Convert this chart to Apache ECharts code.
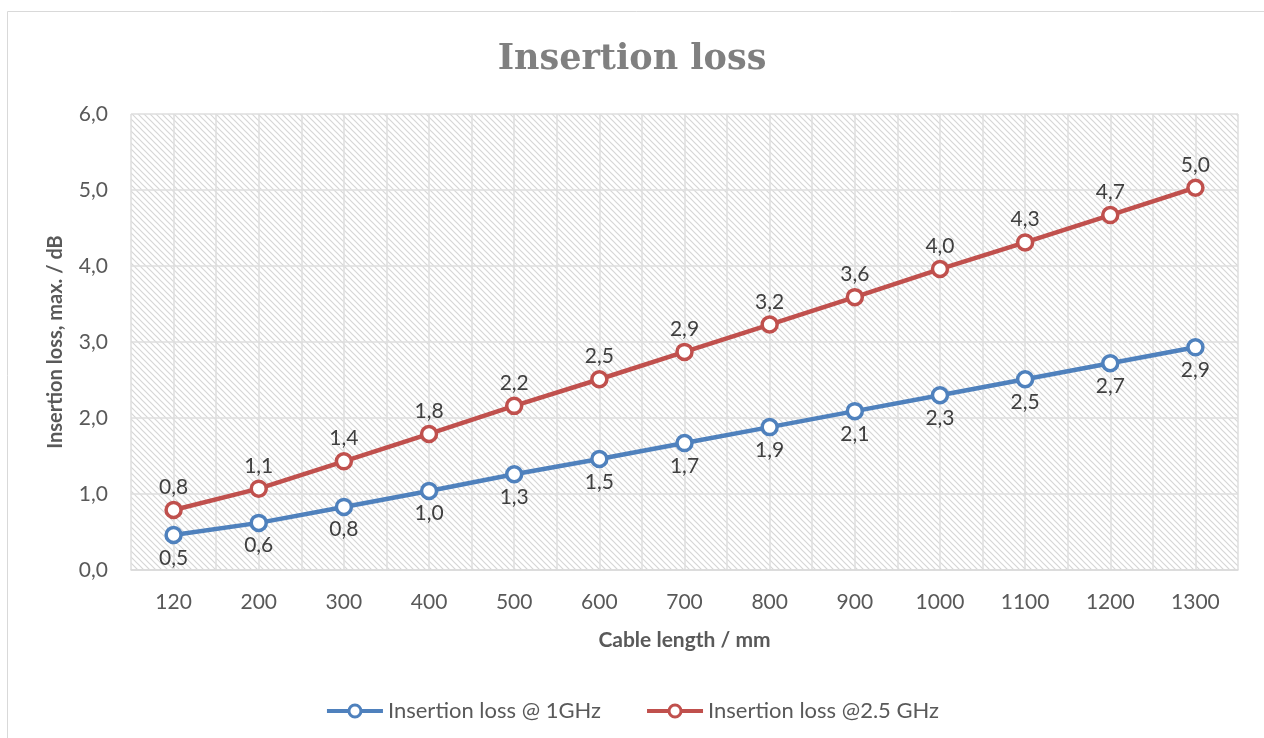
<!DOCTYPE html>
<html>
<head>
<meta charset="utf-8">
<title>Insertion loss</title>
<script src="https://cdn.jsdelivr.net/npm/echarts@6/dist/echarts.min.js"></script>
<style>
    html, body { margin: 0; padding: 0; background: #fff; }
    #main { width: 1264px; height: 738px; }
</style>
</head>
<body>
<div id="main"></div>
<script>
    var lengths = ['120', '200', '300', '400', '500', '600', '700', '800', '900', '1000', '1100', '1200', '1300'];
    var loss1GHz = [0.46, 0.62, 0.83, 1.04, 1.26, 1.46, 1.67, 1.88, 2.09, 2.30, 2.51, 2.72, 2.93];
    var loss25GHz = [0.79, 1.07, 1.43, 1.79, 2.16, 2.51, 2.87, 3.23, 3.59, 3.96, 4.31, 4.67, 5.03];
    var yTicks = [0, 1, 2, 3, 4, 5, 6];

    // hatched plot background
    var pat = document.createElement('canvas');
    pat.width = 6; pat.height = 6;
    var ctx = pat.getContext('2d');
    ctx.fillStyle = '#ffffff';
    ctx.fillRect(0, 0, 6, 6);
    ctx.strokeStyle = '#d6d6d6';
    ctx.lineWidth = 1.2;
    ctx.beginPath();
    ctx.moveTo(-1, -1); ctx.lineTo(7, 7);
    ctx.moveTo(-4, 2); ctx.lineTo(4, 10);
    ctx.moveTo(2, -4); ctx.lineTo(10, 4);
    ctx.stroke();

    function fmt(v) {
        return (Math.round(v * 10) / 10).toFixed(1).replace('.', ',');
    }

    var font = 'Lato, "Open Sans", sans-serif';

    var option = {
        animation: false,
        textStyle: { fontFamily: font },
        title: {
            text: 'Insertion loss',
            left: 'center',
            top: 37,
            textStyle: { fontFamily: '"DejaVu Serif", serif', fontWeight: 'bold', fontSize: 35, color: '#808080' }
        },
        graphic: [{
            type: 'rect',
            shape: { x: 7.5, y: 11.5, width: 1270, height: 740 },
            style: { fill: null, stroke: '#d9d9d9', lineWidth: 1 },
            silent: true
        }],
        legend: {
            top: 695,
            left: 'center',
            itemWidth: 56,
            itemHeight: 15,
            itemGap: 44,
            textStyle: { fontSize: 22, color: '#595959', fontFamily: font },
            lineStyle: { width: 4 },
            itemStyle: { borderWidth: 3 },
            data: ['Insertion loss @ 1GHz', 'Insertion loss @2.5 GHz']
        },
        grid: {
            left: 131, right: 26, top: 114, bottom: 168,
            show: true,
            backgroundColor: { image: pat, repeat: 'repeat' },
            borderWidth: 0
        },
        xAxis: [{
            type: 'category',
            data: lengths,
            boundaryGap: true,
            name: 'Cable length / mm',
            nameLocation: 'middle',
            nameGap: 60,
            nameTextStyle: { fontSize: 21, fontWeight: 'bold', color: '#595959', fontFamily: font },
            axisLine: { lineStyle: { color: '#d9d9d9', width: 1.5 } },
            axisTick: { show: false },
            axisLabel: { fontSize: 21, color: '#595959', margin: 22 },
            splitLine: { show: false }
        }, {
            type: 'value',
            min: 0, max: 13, interval: 0.5,
            position: 'bottom',
            axisLine: { show: false },
            axisTick: { show: false },
            axisLabel: { show: false },
            splitLine: { show: true, lineStyle: { color: '#dedede', width: 1.5 } }
        }],
        yAxis: {
            type: 'value',
            min: yTicks[0], max: yTicks[yTicks.length - 1], interval: 1,
            name: 'Insertion loss, max. / dB',
            nameLocation: 'middle',
            nameGap: 65,
            nameTextStyle: { fontSize: 20, fontWeight: 'bold', color: '#595959', fontFamily: font },
            axisLine: { show: false },
            axisTick: { show: false },
            axisLabel: { fontSize: 21, color: '#595959', margin: 23, formatter: function (v) { return fmt(v); } },
            splitLine: { lineStyle: { color: '#dedede', width: 1.5 } }
        },
        series: [{
            name: 'Insertion loss @ 1GHz',
            type: 'line',
            data: loss1GHz,
            color: '#4f81bd',
            symbol: 'circle',
            symbolSize: 15,
            lineStyle: { width: 4.5, color: '#4f81bd' },
            itemStyle: { color: '#ffffff', borderColor: '#4f81bd', borderWidth: 3.5 },
            label: { show: true, position: 'bottom', distance: 3, fontSize: 21, color: '#404040', formatter: function (p) { return fmt(p.value); } },
            z: 3
        }, {
            name: 'Insertion loss @2.5 GHz',
            type: 'line',
            data: loss25GHz,
            color: '#c0504d',
            symbol: 'circle',
            symbolSize: 15,
            lineStyle: { width: 4.5, color: '#c0504d' },
            itemStyle: { color: '#ffffff', borderColor: '#c0504d', borderWidth: 3.5 },
            label: { show: true, position: 'top', distance: 3, fontSize: 21, color: '#404040', formatter: function (p) { return fmt(p.value); } },
            z: 3
        }]
    };

    var myChart = echarts.init(document.getElementById('main'));
    myChart.setOption(option);
</script>
</body>
</html>
